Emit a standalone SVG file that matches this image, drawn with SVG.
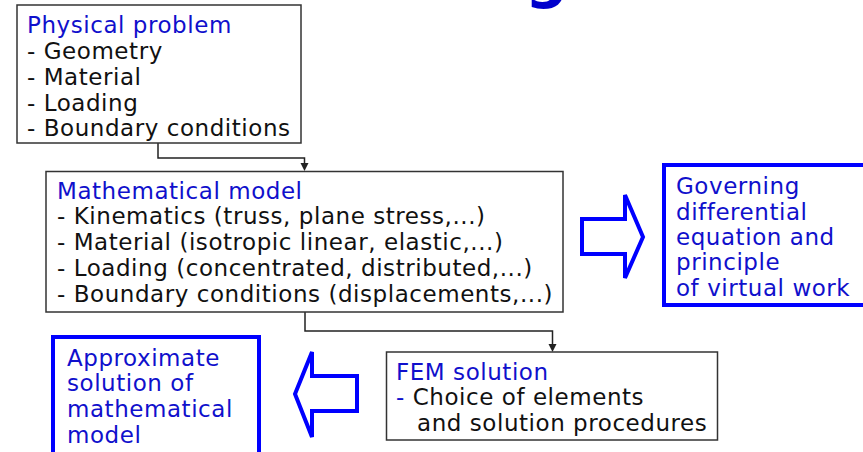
<svg xmlns="http://www.w3.org/2000/svg" width="863" height="452" viewBox="0 0 863 452">
<defs>
<style>
.t{font-family:"DejaVu Sans","Verdana",sans-serif;font-size:23px;letter-spacing:0.55px;fill:#111}
.b{fill:#1010cc}
.box{fill:#fff;stroke:#333;stroke-width:1.5}
.bbox{fill:#fff;stroke:#0000ff;stroke-width:4}
.big{fill:#fff;stroke:#0000ff;stroke-width:4;stroke-linejoin:miter}
.con{fill:none;stroke:#222;stroke-width:1.5}
</style>
</defs>
<rect width="863" height="452" fill="#fff"/>
<text x="525" y="-4" style="font-family:'DejaVu Sans',sans-serif;font-size:60px;font-weight:bold;fill:#0000cc">g</text>
<g id="connectors">
<path class="con" d="M158,143 V158 H304.5 V163"/>
<path d="M300.5,163 L308.5,163 L304.5,171 Z" fill="#222"/>
<path class="con" d="M305,312 V331 H552.5 V344"/>
<path d="M548.5,344 L556.5,344 L552.5,352 Z" fill="#222"/>
</g>
<g id="physical">
<rect class="box" x="17" y="5" width="284" height="138"/>
<text class="t" x="27" y="33"><tspan class="b">Physical problem</tspan><tspan x="27" y="59">- Geometry</tspan><tspan x="27" y="85">- Material</tspan><tspan x="27" y="111">- Loading</tspan><tspan x="27" y="136">- Boundary conditions</tspan></text>
</g>
<g id="math">
<rect class="box" x="46" y="171.5" width="517" height="140.5"/>
<text class="t" x="57" y="199"><tspan class="b">Mathematical model</tspan><tspan x="57" y="224">- Kinematics (truss, plane stress,...)</tspan><tspan x="57" y="250">- Material (isotropic linear, elastic,...)</tspan><tspan x="57" y="276">- Loading (concentrated, distributed,...)</tspan><tspan x="57" y="302">- Boundary conditions (displacements,...)</tspan></text>
</g>
<g id="arrow-right">
<path class="big" d="M582,219 H625 V195 L643,237 L625,278 V254 H582 Z"/>
</g>
<g id="governing">
<rect class="bbox" x="664" y="165" width="215" height="140"/>
<text class="t b" x="676" y="194">Governing<tspan x="676" y="220">differential</tspan><tspan x="676" y="245">equation and</tspan><tspan x="676" y="270">principle</tspan><tspan x="676" y="296">of virtual work</tspan></text>
</g>
<g id="fem">
<rect class="box" x="386.5" y="352" width="331" height="88"/>
<text class="t" x="396" y="380"><tspan class="b">FEM solution</tspan><tspan x="396" y="405" class="b">- </tspan><tspan>Choice of elements</tspan><tspan x="417" y="431">and solution procedures</tspan></text>
</g>
<g id="arrow-left">
<path class="big" d="M357,376 H312 V352 L295,394 L312,437 V411 H357 Z"/>
</g>
<g id="approx">
<rect class="bbox" x="53" y="337" width="206" height="130"/>
<text class="t b" x="67" y="366">Approximate<tspan x="67" y="391">solution of</tspan><tspan x="67" y="417">mathematical</tspan><tspan x="67" y="443">model</tspan></text>
</g>
</svg>
